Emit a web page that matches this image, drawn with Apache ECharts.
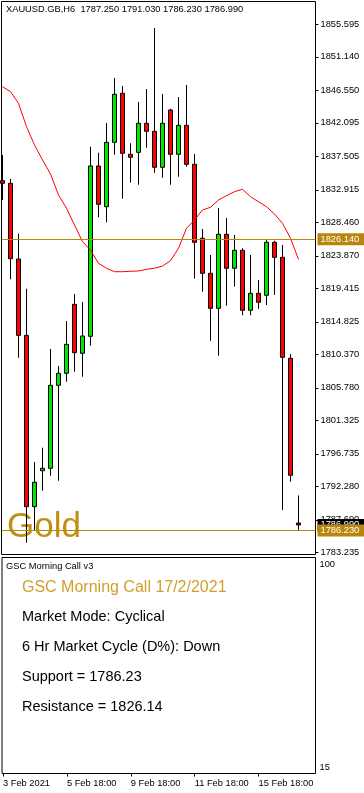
<!DOCTYPE html>
<html><head><meta charset="utf-8">
<script src="https://cdn.jsdelivr.net/npm/echarts@6/dist/echarts.min.js"></script>
<style>html,body{margin:0;padding:0;background:#fff;}#c{width:364px;height:793px;}</style>
</head><body><div id="c"></div>
<script>
// ---- data ----
const headerText = 'XAUUSD.GB,H6  1787.250 1791.030 1786.230 1786.990';
const timeLabels = ['3 Feb 2021', '5 Feb 18:00', '9 Feb 18:00', '11 Feb 18:00', '15 Feb 18:00'];
const timeLabelIdx = [0, 8, 16, 24, 32];
const priceTicks = [1855.595, 1851.140, 1846.550, 1842.095, 1837.505, 1832.915, 1828.460, 1823.870,
  1819.415, 1814.825, 1810.370, 1805.780, 1801.325, 1796.735, 1792.280, 1787.690, 1783.235];
const indTicks = [15, 100];
const opens  = [1834.16,1833.80,1823.43,1812.97,1789.49,1794.42,1794.75,1806.12,1807.77,1817.22,
  1810.51,1812.84,1836.18,1830.60,1839.42,1846.14,1837.78,1838.05,1842.03,1840.93,
  1836.00,1843.85,1837.78,1841.75,1836.41,1826.27,1821.47,1816.67,1826.82,1822.16,
  1824.62,1816.40,1818.73,1818.46,1825.72,1823.66,1809.82,1787.25];
const closes = [1833.80,1823.47,1812.97,1789.49,1792.83,1794.75,1806.12,1807.77,1811.74,1810.59,
  1812.88,1836.18,1830.93,1839.42,1846.00,1837.92,1837.37,1842.03,1840.93,1836.00,
  1842.03,1837.78,1841.75,1836.41,1825.72,1821.47,1816.67,1826.82,1822.16,1824.62,
  1816.40,1818.73,1817.50,1825.72,1823.66,1809.96,1793.79,1786.99];
const lows   = [1831.52,1820.65,1809.90,1784.55,1786.16,1791.68,1793.73,1793.05,1806.62,1807.99,
  1807.30,1811.55,1829.15,1828.46,1837.72,1831.69,1833.89,1833.61,1838.68,1835.26,
  1834.57,1833.61,1834.71,1836.08,1820.73,1818.95,1812.23,1810.18,1817.03,1819.64,
  1815.71,1815.71,1816.62,1817.13,1818.50,1789.03,1792.91,1786.23];
const highs  = [1837.68,1834.40,1826.90,1819.36,1795.61,1797.57,1811.10,1808.77,1814.94,1818.63,
  1817.54,1838.82,1838.00,1842.07,1848.24,1847.14,1839.29,1844.95,1846.73,1855.09,
  1846.04,1844.03,1845.63,1847.28,1837.82,1827.54,1823.98,1830.42,1829.05,1826.72,
  1824.90,1823.98,1820.55,1826.03,1825.94,1825.35,1810.41,1791.03];
const maValues = [1847.04,1846.36,1844.77,1841.56,1839.05,1837.00,1835.08,1832.20,1830.38,1828.09,
  1825.80,1824.66,1822.84,1822.16,1821.69,1821.69,1821.75,1821.79,1822.02,1822.16,
  1822.47,1823.20,1824.90,1827.64,1828.78,1830.15,1830.52,1831.52,1832.11,1832.66,
  1832.98,1831.97,1831.28,1830.60,1829.60,1828.32,1826.27,1823.39];
const support = 1786.23;
const resistance = 1826.14;
const bid = 1786.99;
const watermark = 'Gold';
const panelName = 'GSC Morning Call v3';
const infoTitle = 'GSC Morning Call 17/2/2021';
const infoLines = ['Market Mode: Cyclical', '6 Hr Market Cycle (D%): Down', 'Support = 1786.23', 'Resistance = 1826.14'];

// ---- build ----
const FF = 'Liberation Sans, Arial, sans-serif';
const SMALL = 9.3;
const candleData = opens.map((o, i) => [i, o, closes[i], lows[i], highs[i]]);
const maData = maValues.map((v, i) => [i, v]);
const xMin = -0.125, xMax = 39.125;

const chart = echarts.init(document.getElementById('c'), null, {renderer: 'canvas'});
const infoGraphics = infoLines.map((t, i) => ({
  type: 'text', x: 22, y: [617, 647, 676.7, 706.7][i], z: 10,
  style: {text: t, fill: '#000', font: '14.5px ' + FF, verticalAlign: 'middle'}
}));
chart.setOption({
  animation: false,
  backgroundColor: '#fff',
  grid: [
    {left: 1.5, right: 48.5, top: 1.5, height: 553, show: true, borderColor: '#000', borderWidth: 1, backgroundColor: '#fff'},
    {left: 1.5, right: 48.5, top: 557.5, height: 216, show: true, borderColor: '#000', borderWidth: 1, backgroundColor: '#fff'}
  ],
  xAxis: [
    {type: 'value', gridIndex: 0, min: xMin, max: xMax, show: false, axisLine: {onZero: false}},
    {type: 'value', gridIndex: 1, min: xMin, max: xMax, position: 'bottom',
      axisLine: {show: false, onZero: false}, splitLine: {show: false},
      axisTick: {show: true, length: 3, lineStyle: {color: '#000'}, customValues: timeLabelIdx},
      axisLabel: {customValues: timeLabelIdx, align: 'left', margin: 5, color: '#000', fontSize: SMALL, fontFamily: FF,
        formatter: v => timeLabels[timeLabelIdx.indexOf(Math.round(v))] || ''}}
  ],
  yAxis: [
    {type: 'value', gridIndex: 0, position: 'right', min: 1782.935, max: 1858.72,
      axisLine: {show: false, onZero: false}, splitLine: {show: false},
      axisTick: {show: true, length: 3, lineStyle: {color: '#000'}, customValues: priceTicks},
      axisLabel: {customValues: priceTicks, margin: 5, color: '#000', fontSize: SMALL, fontFamily: FF,
        formatter: v => v.toFixed(3)}},
    {type: 'value', gridIndex: 1, position: 'right', min: 12.40, max: 102.85,
      axisLine: {show: false, onZero: false}, splitLine: {show: false},
      axisTick: {show: false},
      axisLabel: {customValues: indTicks, margin: 4, color: '#000', fontSize: SMALL, fontFamily: FF,
        formatter: v => String(Math.round(v))}}
  ],
  graphic: [
    {type: 'text', x: 6, y: 9.7, z: 10, style: {text: headerText, fill: '#000', font: SMALL + 'px ' + FF, verticalAlign: 'middle'}},
    {type: 'text', x: 7, y: 527.5, z: 1, style: {text: watermark, fill: '#bf8f14', font: '35px ' + FF, verticalAlign: 'middle'}},
    {type: 'text', x: 6, y: 566.7, z: 10, style: {text: panelName, fill: '#000', font: SMALL + 'px ' + FF, verticalAlign: 'middle'}},
    {type: 'text', x: 22, y: 587.7, z: 10, style: {text: infoTitle, fill: '#d19f2c', font: '16px ' + FF, verticalAlign: 'middle'}}
  ].concat(infoGraphics),
  series: [
    {type: 'candlestick', xAxisIndex: 0, yAxisIndex: 0, data: candleData, encode: {x: 0, y: [1, 2, 3, 4]},
      barWidth: 4, clip: true,
      itemStyle: {color: '#00e600', color0: '#ff0000', borderColor: '#000', borderColor0: '#000', borderWidth: 1}},
    {type: 'line', xAxisIndex: 0, yAxisIndex: 0, data: maData, symbol: 'none', clip: false, z: 3,
      lineStyle: {color: '#ff0000', width: 1},
      markLine: {symbol: 'none', silent: true, animation: false, z: 5,
        label: {position: 'end', distance: 2, padding: [2, 8, 1, 3], color: '#fff', fontSize: SMALL, fontFamily: FF,
          formatter: p => p.value.toFixed(3)},
        data: [
          {yAxis: bid, lineStyle: {color: 'rgba(0,0,0,0)', width: 1}, label: {backgroundColor: '#000'}},
          {yAxis: support, lineStyle: {color: '#b8860b', width: 1, type: 'solid'}, label: {backgroundColor: '#b8860b'}},
          {yAxis: resistance, lineStyle: {color: '#b8860b', width: 1, type: 'solid'}, label: {backgroundColor: '#b8860b'}}
        ]}},
    {type: 'line', xAxisIndex: 1, yAxisIndex: 1, data: [], symbol: 'none'}
  ]
});
</script></body></html>
